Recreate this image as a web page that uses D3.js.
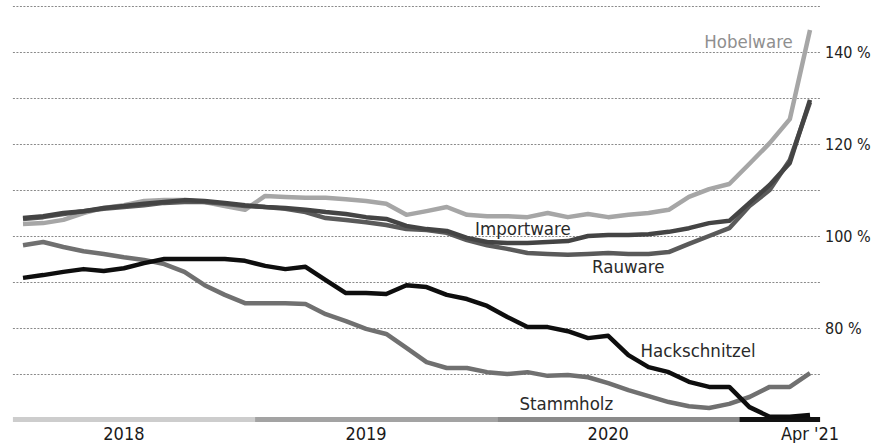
<!DOCTYPE html>
<html>
<head>
<meta charset="utf-8">
<script src="https://cdn.jsdelivr.net/npm/d3@7"></script>
<style>
  html, body { margin: 0; padding: 0; background: #fff; }
  svg { display: block; }
  text { font-family: "DejaVu Sans Condensed", "Liberation Sans Narrow", "Liberation Sans", sans-serif; }
</style>
</head>
<body>
<svg id="chart" width="873" height="443"></svg>
<script>
// Monthly index values in percent, January 2018 to April 2021 (40 months)
const months = d3.range(40).map(i => new Date(2018, i, 1));

const hobelware = [102.6, 102.8, 103.5, 105.0, 106.1, 106.7, 107.6, 107.8, 107.8, 107.4,
  106.5, 105.7, 108.7, 108.5, 108.3, 108.3, 108.0, 107.6, 107.0, 104.6,
  105.4, 106.3, 104.6, 104.3, 104.3, 104.1, 105.0, 104.1, 104.8, 104.1,
  104.6, 105.0, 105.7, 108.5, 110.2, 111.3, 115.7, 120.2, 125.4, 144.8];

const importware = [103.9, 104.3, 105.0, 105.4, 106.1, 106.5, 107.0, 107.4, 107.8, 107.6,
  107.2, 106.7, 106.3, 106.1, 105.7, 105.2, 104.8, 104.1, 103.7, 102.2,
  101.5, 101.1, 99.6, 98.7, 98.5, 98.5, 98.7, 98.9, 100.0, 100.2,
  100.2, 100.4, 100.9, 101.7, 102.8, 103.3, 107.2, 111.1, 115.9, 129.6];

const rauware = [103.7, 104.1, 104.8, 105.4, 105.9, 106.3, 106.7, 107.2, 107.4, 107.4,
  107.0, 106.5, 106.3, 105.9, 105.2, 103.9, 103.5, 103.0, 102.4, 101.5,
  101.3, 100.7, 99.1, 98.0, 97.2, 96.3, 96.1, 95.9, 96.1, 96.3,
  96.1, 96.1, 96.5, 98.3, 100.0, 101.7, 106.5, 110.0, 116.5, 129.1];

const hackschnitzel = [90.9, 91.5, 92.2, 92.8, 92.4, 93.0, 94.1, 95.0, 95.0, 95.0,
  95.0, 94.6, 93.5, 92.8, 93.3, 90.4, 87.6, 87.6, 87.4, 89.3,
  88.9, 87.2, 86.3, 84.8, 82.4, 80.2, 80.2, 79.3, 77.8, 78.3,
  74.1, 71.5, 70.4, 68.3, 67.2, 67.2, 62.8, 60.7, 60.7, 61.1];

const stammholz = [98.0, 98.7, 97.6, 96.7, 96.1, 95.4, 94.8, 93.9, 92.2, 89.3,
  87.2, 85.4, 85.4, 85.4, 85.2, 83.0, 81.5, 79.8, 78.7, 75.7,
  72.6, 71.3, 71.3, 70.4, 70.0, 70.4, 69.6, 69.8, 69.3, 68.0,
  66.5, 65.2, 63.9, 63.0, 62.6, 63.5, 65.0, 67.2, 67.2, 70.2];

const gridValues = [70, 80, 90, 100, 110, 120, 130, 140, 150];
const tickValues = [80, 100, 120, 140];
const yearLabels = ["2018", "2019", "2020", "Apr '21"];
const yearLabelMonth = [5, 17, 29, 39];
const yearSpans = [[0, 11], [12, 23], [24, 35], [36, 39]];

const svg = d3.select("#chart");

const x = d3.scaleLinear().domain([0, 39]).range([23, 810]);
const y = d3.scaleLinear().domain([60, 150]).range([420, 6]);

// dotted horizontal grid
const gridLeft = x(-0.5), gridRight = x(39.5);
svg.append("g").selectAll("line").data(gridValues).join("line")
  .attr("x1", gridLeft).attr("x2", gridRight)
  .attr("y1", d => Math.round(y(d)) + 0.5).attr("y2", d => Math.round(y(d)) + 0.5)
  .attr("stroke", "#8a8a8a").attr("stroke-width", 1)
  .attr("stroke-dasharray", "2,1.5");

// right-hand percentage labels
svg.append("g").selectAll("text").data(tickValues).join("text")
  .attr("x", 825).attr("y", d => y(d) + 6)
  .attr("font-size", 16).attr("fill", "#222")
  .text(d => d + " %");

// time bar along the bottom, one shade per year
const barShades = ["#cdcdcd", "#a3a3a3", "#8b8b8b", "#121212"];
svg.append("g").selectAll("rect").data(yearSpans).join("rect")
  .attr("x", d => x(d[0] - 0.5))
  .attr("width", d => x(d[1] + 0.5) - x(d[0] - 0.5))
  .attr("y", y(60) - 3).attr("height", 5)
  .attr("fill", (d, i) => barShades[i]);

svg.append("g").selectAll("text").data(yearLabels).join("text")
  .attr("x", (d, i) => x(yearLabelMonth[i]))
  .attr("y", 440)
  .attr("text-anchor", "middle")
  .attr("font-size", 18).attr("fill", "#1a1a1a")
  .text(d => d);

// series lines
const series = [
  { name: "Hobelware", values: hobelware, color: "#a6a6a6" },
  { name: "Rauware", values: rauware, color: "#5a5a5a" },
  { name: "Importware", values: importware, color: "#444444" },
  { name: "Stammholz", values: stammholz, color: "#707070" },
  { name: "Hackschnitzel", values: hackschnitzel, color: "#0e0e0e" }
];

const line = d3.line()
  .x((d, i) => x(i))
  .y(d => y(d));

svg.append("g").selectAll("path").data(series).join("path")
  .attr("d", d => line(d.values))
  .attr("fill", "none")
  .attr("stroke", d => d.color)
  .attr("stroke-width", 4.5)
  .attr("stroke-linejoin", "round")
  .attr("stroke-linecap", "butt");

// series names placed in data coordinates (month index, percent)
const labels = [
  { text: "Hobelware", m: 38.15, v: 140.9, anchor: "end", color: "#8f8f8f" },
  { text: "Importware", m: 22.4, v: 100.2, anchor: "start", color: "#2a2a2a" },
  { text: "Rauware", m: 28.2, v: 92.0, anchor: "start", color: "#2a2a2a" },
  { text: "Hackschnitzel", m: 30.6, v: 73.7, anchor: "start", color: "#2a2a2a" },
  { text: "Stammholz", m: 24.6, v: 62.2, anchor: "start", color: "#2a2a2a" }
];

svg.append("g").selectAll("text").data(labels).join("text")
  .attr("x", d => x(d.m)).attr("y", d => y(d.v))
  .attr("text-anchor", d => d.anchor)
  .attr("font-size", 18.5)
  .attr("fill", d => d.color)
  .text(d => d.text);
</script>
</body>
</html>
